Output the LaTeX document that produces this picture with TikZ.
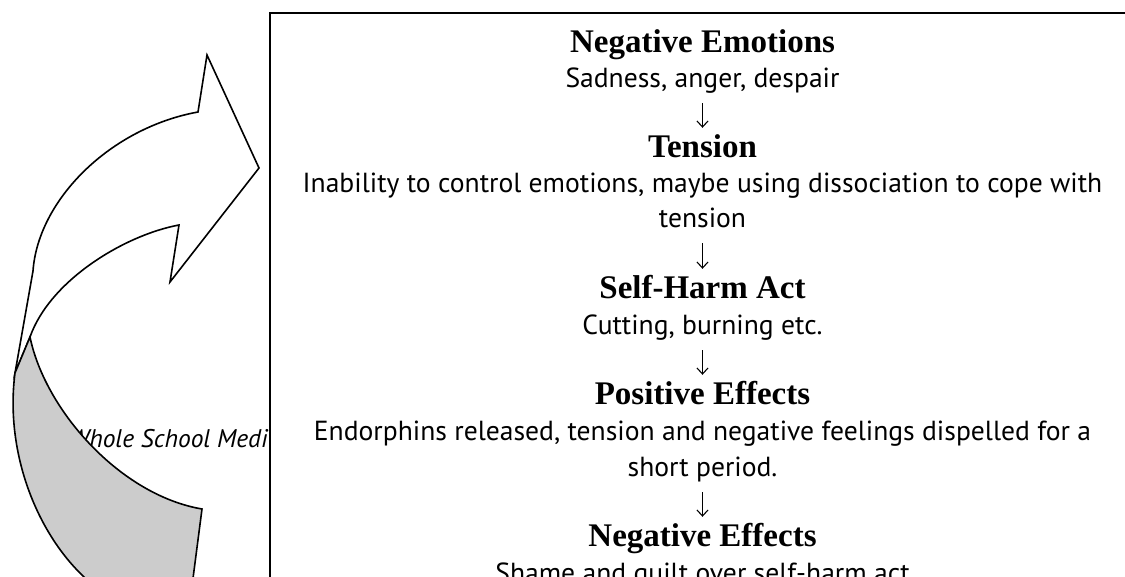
\documentclass[tikz,border=0pt]{standalone}
\usepackage{fontspec}
\setmainfont{PT Sans}
\newfontfamily\headfont{Liberation Serif}
\usetikzlibrary{arrows.meta}
\definecolor{bandgray}{RGB}{204,204,204}
\tikzset{
  arrowline/.style={draw=black, line width=1.6pt, line join=miter},
  boxline/.style={draw=black, line width=2pt, fill=white},
  headtxt/.style={anchor=base, inner sep=0pt, font=\headfont\bfseries\fontsize{33pt}{38pt}\selectfont},
  bodytxt/.style={anchor=base, inner sep=0pt, font=\fontsize{27.6pt}{35pt}\selectfont},
  sidetxt/.style={anchor=base west, inner sep=0pt, font=\itshape\fontsize{25.5pt}{30pt}\selectfont},
  linebox/.style={text height=20pt, text depth=7pt},
  flow/.style={-{Straight Barb[length=6pt,width=11pt]}, line width=1.1pt, shorten <=9pt, shorten >=9pt}
}
\begin{document}
\begin{tikzpicture}[x=1pt,y=-1pt]
\useasboundingbox (0,0) rectangle (1125,576);
\clip (0,0) rectangle (1125,576);
% side text (mostly hidden)
\node[sidetxt] (side) at (69,447) {Whole School Medi};
% curved arrow: white upper part
\path[arrowline, fill=white] (198,112) -- (207,55) -- (259,168) -- (170,282) -- (179,225)
  .. controls (125,235) and (50,280) .. (30,337) -- (15,373) -- (33,271)
  .. controls (38,200) and (110,128) .. (198,112) -- cycle;
% curved arrow: gray lower band
\path[arrowline, fill=bandgray] (30,337) .. controls (45,410) and (120,495) .. (202,509)
  -- (185,640) -- (160,640) .. controls (130,620) and (105,600) .. (83,576)
  .. controls (35,530) and (5,450) .. (15,373) -- cycle;
% frame
\path[boxline] (270,13) rectangle (1140,600);
% text column
\def\cx{702.5}
\node[headtxt, linebox] (h1) at (\cx,52) {Negative Emotions};
\node[bodytxt, linebox] (d1) at (\cx,87) {Sadness, anger, despair};
\node[headtxt, linebox] (h2) at (\cx,157) {Tension};
\node[bodytxt, linebox] (d2a) at (\cx,192) {Inability to control emotions, maybe using dissociation to cope with};
\node[bodytxt, linebox] (d2b) at (\cx,227) {tension};
\node[headtxt, linebox] (h3) at (\cx,298) {Self-Harm Act};
\node[bodytxt, linebox] (d3) at (\cx,334) {Cutting, burning etc.};
\node[headtxt, linebox] (h4) at (\cx,404) {Positive Effects};
\node[bodytxt, linebox] (d4a) at (\cx,440) {Endorphins released, tension and negative feelings dispelled for a};
\node[bodytxt, linebox] (d4b) at (\cx,476) {short period.};
\node[headtxt, linebox] (h5) at (\cx,546) {Negative Effects};
\node[bodytxt, linebox] (d5) at (\cx,582) {Shame and guilt over self-harm act};
% connectors
\draw[flow] (d1) -- (h2);
\draw[flow] (d2b) -- (h3);
\draw[flow] (d3) -- (h4);
\draw[flow] (d4b) -- (h5);
\end{tikzpicture}
\end{document}
